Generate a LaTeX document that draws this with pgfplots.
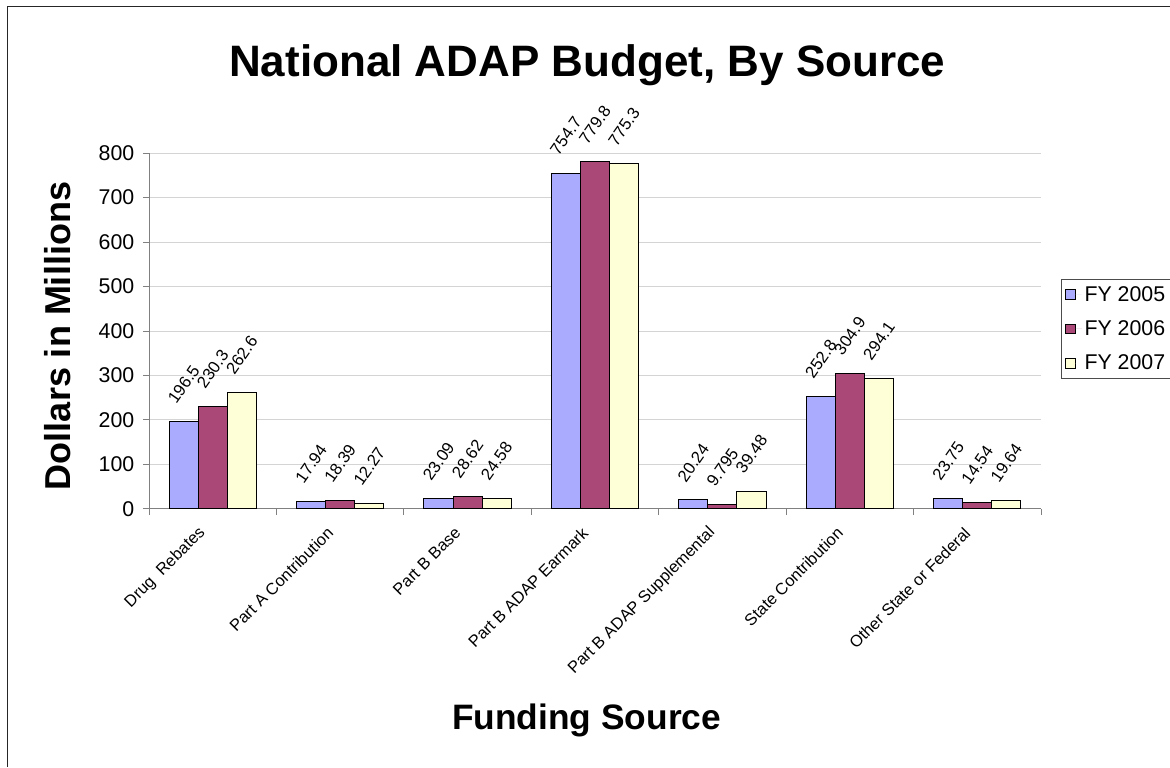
\documentclass[border=0pt]{standalone}
\usepackage{pgfplots}
\pgfplotsset{compat=1.18}
\usepackage{fontspec}
\setmainfont{Liberation Sans}
\definecolor{cA}{RGB}{170,170,255}
\definecolor{cB}{RGB}{170,72,120}
\definecolor{cC}{RGB}{255,255,215}
\definecolor{gridc}{RGB}{212,212,212}
\definecolor{axc}{RGB}{128,128,128}
\begin{document}
\begin{tikzpicture}
\useasboundingbox (0,0) rectangle (877.5pt,575.25pt);
\fill[white] (0,0) rectangle (877.5pt,575.25pt);
\draw[line width=1.1pt, black!85] (5.6pt,0) -- (5.6pt,570.4pt) -- (877.5pt,570.4pt);
\begin{axis}[
  at={(111.75pt,193.5pt)}, anchor=south west,
  scale only axis, width=669pt, height=267pt,
  xmin=0, xmax=7, ymin=0, ymax=800,
  axis lines*=left,
  axis line style={draw=axc, line width=0.75pt},
  ybar=0pt, bar width=0.228,
  ytick={0,100,...,800},
  ymajorgrids, grid style={draw=gridc, line width=0.75pt},
  tick align=outside,
  major tick length=4.5pt,
  tick style={draw=axc, line width=0.75pt},
  /pgf/number format/assume math mode=true,
  yticklabel style={font=\fontsize{16}{19}\selectfont, xshift=-3pt},
  xtick={0.5,1.5,...,6.5},
  xticklabels={Drug\ \ Rebates, Part A Contribution, Part B Base, Part B ADAP Earmark, Part B ADAP Supplemental, State Contribution, Other State or Federal},
  x tick style={draw=none},
  xticklabel style={font=\fontsize{12.3}{14}\selectfont, anchor=east, yshift=-9pt, xshift=-5pt, rotate=45},
  extra x ticks={0,1,...,7},
  extra x tick labels={},
  extra x tick style={grid=none, x tick style={draw=axc, line width=0.75pt}},
  point meta=explicit symbolic,
  nodes near coords,
  nodes near coords style={font=\fontsize{12.5}{14}\selectfont, anchor=center, yshift=28pt, rotate=55},
  every axis plot/.append style={draw=black, line width=0.75pt},
  legend image code/.code={\draw[#1, line width=0.6pt] (0pt,-3.6pt) rectangle (7.2pt,3.6pt); \path[draw=none] (0pt,0pt) -- (12pt,0pt);},
  legend style={at={(1.0224,0.646)}, anchor=north west, draw=black!70, line width=0.75pt,
    font=\fontsize{16}{19}\selectfont, legend cell align=left, row sep=9pt, inner sep=3pt},
]
\addplot[fill=cA] coordinates {(0.5,196.5)[196.5] (1.5,17.94)[17.94] (2.5,23.09)[23.09] (3.5,754.7)[754.7] (4.5,20.24)[20.24] (5.5,252.8)[252.8] (6.5,23.75)[23.75]};
\addplot[fill=cB] coordinates {(0.5,230.3)[230.3] (1.5,18.39)[18.39] (2.5,28.62)[28.62] (3.5,779.8)[779.8] (4.5,9.795)[9.795] (5.5,304.9)[304.9] (6.5,14.54)[14.54]};
\addplot[fill=cC] coordinates {(0.5,262.6)[262.6] (1.5,12.27)[12.27] (2.5,24.58)[24.58] (3.5,775.3)[775.3] (4.5,39.48)[39.48] (5.5,294.1)[294.1] (6.5,19.64)[19.64]};
\legend{FY 2005, FY 2006, FY 2007}
\end{axis}
\node[anchor=base, font=\fontsize{33}{39}\selectfont\bfseries] at (440.5pt,517.5pt) {National ADAP Budget, By Source};
\node[anchor=base, rotate=90, font=\fontsize{27}{32}\selectfont\bfseries] at (52.5pt,323.25pt) {Dollars in Millions};
\node[anchor=base, font=\fontsize{26.5}{32}\selectfont\bfseries] at (440pt,27.75pt) {Funding Source};
\end{tikzpicture}
\end{document}
